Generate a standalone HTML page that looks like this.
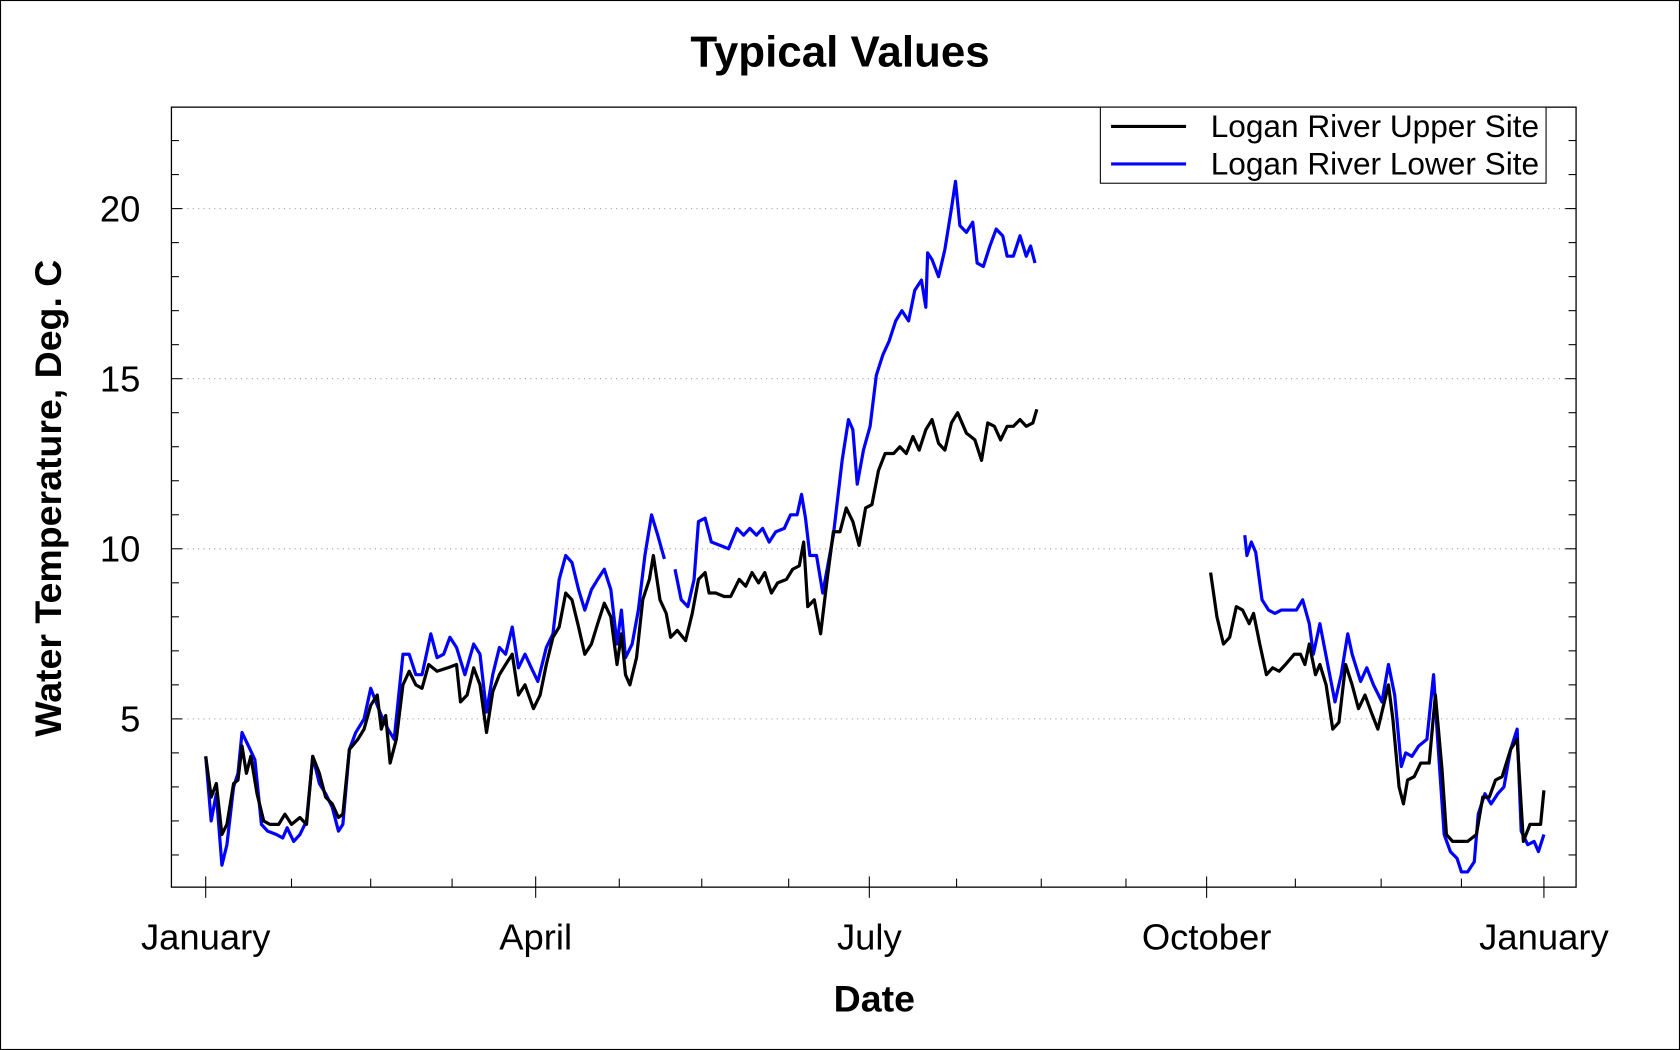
<!DOCTYPE html>
<html><head><meta charset="utf-8"><style>
html,body{margin:0;padding:0;background:#fff;}
svg{display:block;font-family:"Liberation Sans",Arial,sans-serif;}
</style></head><body>
<svg id="chart" width="1680" height="1050" viewBox="0 0 1568 980" xmlns="http://www.w3.org/2000/svg">
<rect x="0.5" y="0.5" width="1567" height="979" fill="#fff" stroke="#000" stroke-width="1"/>
<text x="784" y="62" text-anchor="middle" font-size="41" font-weight="bold">Typical Values</text>
<text x="816" y="944" text-anchor="middle" font-size="35" font-weight="bold">Date</text>
<text transform="translate(57,465) rotate(-90)" text-anchor="middle" font-size="35" font-weight="bold">Water Temperature, Deg. C</text>
<g id="grid"></g>
<g id="axes"></g>
<g id="series"></g>
<rect x="160" y="100" width="1311" height="728" fill="none" stroke="#000" stroke-width="1.2"/>
<g>
<rect x="1027" y="100" width="416" height="71" fill="#fff" stroke="#000" stroke-width="1"/>
<line x1="1037" y1="118" x2="1107" y2="118" stroke="#000" stroke-width="3"/>
<text x="1130" y="128" font-size="29.5">Logan River Upper Site</text>
<line x1="1037" y1="153" x2="1107" y2="153" stroke="#0000ff" stroke-width="3"/>
<text x="1130" y="163" font-size="29.5">Logan River Lower Site</text>
</g>
</svg>
<script>
const monthLabels = ["January","April","July","October","January"];
const monthDays = [0,90,181,273,365];
const xTickDays = [0,23.4,45,67.2,90,112.8,135.3,159,181,204.8,227.9,251,273,297.2,320.6,342.5,365];
const yTickValues = [5,10,15,20];

const upperDays1 = [0,1.5,2.9,4.4,5.8,7.6,8.8,9.9,11.1,12.3,14.0,15.8,17.5,19.9,21.6,23.4,25.7,27.5,29.2,31.0,32.7,34.5,36.2,37.4,39.2,41.5,43.2,45.0,46.8,47.9,49.1,50.3,52.0,53.8,55.5,57.3,59.0,60.8,63.1,66.0,68.4,69.5,71.3,73.1,74.8,76.6,78.3,80.1,81.8,83.6,85.3,87.1,89.4,91.2,92.9,94.7,96.4,98.2,99.9,101.7,103.4,105.2,106.9,108.7,110.5,112.2,113.4,114.5,115.7,117.5,119.2,121.0,122.1,123.9,125.6,126.8,128.6,130.9,132.7,134.4,136.2,137.3,139.1,141.4,143.2,145.5,147.3,149.0,150.8,152.5,154.3,156.0,158.4,160.1,161.9,163.1,164.2,166.0,167.7,169.5,171.2,173.0,174.7,176.5,178.2,180.0,181.7,183.5,185.3,187.6,189.3,191.1,192.9,194.6,196.4,198.1,199.9,201.6,203.4,205.1,207.5,209.8,211.6,213.3,215.1,216.8,218.6,220.3,222.1,223.8,225.6,226.7];
const upperTemps1 = [3.9,2.7,3.1,1.6,1.9,3.1,3.2,4.2,3.4,3.9,2.8,2.0,1.9,1.9,2.2,1.9,2.1,1.9,3.9,3.4,2.7,2.5,2.1,2.2,4.1,4.4,4.7,5.4,5.7,4.7,5.1,3.7,4.4,6.0,6.4,6.0,5.9,6.6,6.4,6.5,6.6,5.5,5.7,6.5,6.0,4.6,5.8,6.3,6.6,6.9,5.7,6.0,5.3,5.7,6.6,7.4,7.7,8.7,8.5,7.7,6.9,7.2,7.8,8.4,8.0,6.6,7.5,6.3,6.0,6.8,8.5,9.1,9.8,8.5,8.1,7.4,7.6,7.3,8.1,9.1,9.3,8.7,8.7,8.6,8.6,9.1,8.9,9.3,9.0,9.3,8.7,9.0,9.1,9.4,9.5,10.2,8.3,8.5,7.5,9.1,10.5,10.5,11.2,10.8,10.1,11.2,11.3,12.3,12.8,12.8,13.0,12.8,13.3,12.9,13.5,13.8,13.1,12.9,13.7,14.0,13.4,13.2,12.6,13.7,13.6,13.2,13.6,13.6,13.8,13.6,13.7,14.1];
const upperDays2 = [274.1,275.8,277.6,279.3,281.1,282.8,284.6,285.8,287.5,289.3,291.0,292.8,294.5,296.9,298.6,299.8,301.0,302.7,303.9,305.6,307.4,309.1,310.9,312.7,314.4,316.2,317.9,319.7,320.8,322.6,323.8,325.5,326.7,327.8,329.6,331.4,333.7,335.4,337.2,338.4,340.1,341.9,344.2,346.6,348.3,350.1,351.8,353.6,355.9,357.7,359.4,361.2,362.9,364.1,365];
const upperTemps2 = [9.3,8.0,7.2,7.4,8.3,8.2,7.8,8.1,7.2,6.3,6.5,6.4,6.6,6.9,6.9,6.6,7.2,6.3,6.6,6.0,4.7,4.9,6.6,6.0,5.3,5.7,5.2,4.7,5.2,6.0,5.0,3.0,2.5,3.2,3.3,3.7,3.7,5.7,3.5,1.6,1.4,1.4,1.4,1.6,2.7,2.7,3.2,3.3,4.1,4.4,1.4,1.9,1.9,1.9,2.9];

const lowerDays1 = [0,1.5,2.9,4.4,5.8,7.6,8.8,9.9,11.7,13.4,15.2,16.9,19.3,21.0,22.2,24.0,25.7,27.5,29.2,31.0,32.7,34.5,36.2,37.4,39.2,40.9,43.2,45.0,46.8,47.9,49.7,51.4,53.8,55.5,57.3,59.0,61.4,63.1,64.9,66.6,68.4,70.7,73.1,74.8,76.6,78.3,80.1,81.8,83.6,85.3,87.1,88.8,90.6,92.9,94.7,96.4,98.2,99.9,101.7,103.4,105.2,106.9,108.7,110.5,112.2,113.4,114.5,116.3,118.0,119.8,121.6,123.3,125.1];
const lowerTemps1 = [3.9,2.0,2.8,0.7,1.3,3.0,3.4,4.6,4.2,3.8,1.9,1.7,1.6,1.5,1.8,1.4,1.6,2.0,3.9,3.1,2.8,2.4,1.7,1.9,4.1,4.6,5.0,5.9,5.4,5.1,4.7,4.4,6.9,6.9,6.3,6.3,7.5,6.8,6.9,7.4,7.1,6.3,7.2,6.9,5.2,6.3,7.1,6.9,7.7,6.5,6.9,6.5,6.1,7.1,7.5,9.1,9.8,9.6,8.8,8.2,8.8,9.1,9.4,8.8,7.2,8.2,6.8,7.2,8.2,9.8,11.0,10.4,9.7];
const lowerDays2 = [128.0,129.7,131.5,133.2,134.4,136.2,137.9,140.3,142.6,144.9,146.7,148.4,150.2,151.9,153.7,155.5,157.8,159.5,161.3,162.5,163.6,164.8,166.6,168.3,171.2,173.6,175.3,176.5,177.7,179.4,181.2,182.9,184.7,186.4,188.2,189.9,191.7,193.4,195.2,196.4,196.9,198.1,199.9,201.6,203.4,204.5,205.7,207.5,209.2,210.4,212.1,213.9,215.6,217.4,218.6,220.3,222.1,223.8,225.0,226.2];
const lowerTemps2 = [9.4,8.5,8.3,9.1,10.8,10.9,10.2,10.1,10.0,10.6,10.4,10.6,10.4,10.6,10.2,10.5,10.6,11.0,11.0,11.6,10.9,9.8,9.8,8.7,10.4,12.6,13.8,13.5,11.9,12.9,13.6,15.1,15.7,16.1,16.7,17.0,16.7,17.6,17.9,17.1,18.7,18.5,18.0,18.8,20.0,20.8,19.5,19.3,19.6,18.4,18.3,18.9,19.4,19.2,18.6,18.6,19.2,18.6,18.9,18.4];
const lowerDays3 = [283.4,284.0,285.2,286.4,288.1,289.9,291.6,293.4,295.1,297.5,299.2,301.0,302.1,303.9,306.2,308.0,309.7,311.5,312.7,315.0,316.7,318.5,320.8,322.6,324.3,326.1,327.3,329.0,330.8,333.1,334.9,336.0,337.8,339.5,341.3,342.5,344.2,346.0,347.1,348.9,350.6,352.4,354.1,355.9,357.7,358.8,360.6,362.3,363.5,365];
const lowerTemps3 = [10.4,9.8,10.2,9.9,8.5,8.2,8.1,8.2,8.2,8.2,8.5,7.8,6.9,7.8,6.5,5.5,6.3,7.5,6.9,6.1,6.5,6.0,5.5,6.6,5.7,3.6,4.0,3.9,4.2,4.4,6.3,4.4,1.6,1.1,0.9,0.5,0.5,0.8,2.2,2.8,2.5,2.8,3.0,4.1,4.7,1.7,1.3,1.4,1.1,1.6];

const NS = "http://www.w3.org/2000/svg";
const PX0 = 192, PX1 = 1441, PY0 = 829.7, PYU = 31.75;
function xScale(d){ return PX0 + (PX1 - PX0) * d / 365; }
function yScale(t){ return PY0 - t * PYU; }
function mk(tag, attrs, parent){ const e = document.createElementNS(NS, tag); for (const k in attrs) e.setAttribute(k, attrs[k]); parent.appendChild(e); return e; }

const grid = document.getElementById('grid');
const axes = document.getElementById('axes');
const series = document.getElementById('series');

yTickValues.forEach(v => {
  const g = mk('line', {x1:160, x2:1471, y1:yScale(v), y2:yScale(v), stroke:'#999', 'stroke-width':1, 'stroke-dasharray':'1,4'}, grid);
  
  
  const t = mk('text', {x:131, y:yScale(v)+12, 'text-anchor':'end', 'font-size':34}, axes);
  t.textContent = v;
  
  
});
for (let v = 1; v <= 22; v++) {
  const y = yScale(v);
  const len = v % 5 === 0 ? 10 : 7;
  const a = mk('line', {x1:160, x2:160+len, y1:y, y2:y, stroke:'#000', 'stroke-width':1}, axes);
  
  
  const b = mk('line', {x1:1471-len, x2:1471, y1:y, y2:y, stroke:'#000', 'stroke-width':1}, axes);
  
  
}
xTickDays.forEach((d, i) => {
  const x = xScale(d);
  const major = i % 4 === 0;
  const l = mk('line', {x1:x, x2:x, y1:major?818:820, y2:major?838:828, stroke:'#000', 'stroke-width':1}, axes);
  
  
});
monthLabels.forEach((m, i) => {
  const t = mk('text', {x:xScale(monthDays[i]), y:886, 'text-anchor':'middle', 'font-size':34}, axes);
  t.textContent = m;
  
  
});

function drawLine(days, temps, color, name){
  const d = days.map((dd, i) => (i ? 'L' : 'M') + xScale(dd).toFixed(1) + ',' + yScale(temps[i]).toFixed(1)).join(' ');
  const p = mk('path', {d:d, fill:'none', stroke:color, 'stroke-width':3, 'stroke-linejoin':'round'}, series);
  
  
}
drawLine(lowerDays1, lowerTemps1, '#0000ff', 'lower-site-line-1');
drawLine(lowerDays2, lowerTemps2, '#0000ff', 'lower-site-line-2');
drawLine(lowerDays3, lowerTemps3, '#0000ff', 'lower-site-line-3');
drawLine(upperDays1, upperTemps1, '#000000', 'upper-site-line-1');
drawLine(upperDays2, upperTemps2, '#000000', 'upper-site-line-2');
</script>
</body></html>
